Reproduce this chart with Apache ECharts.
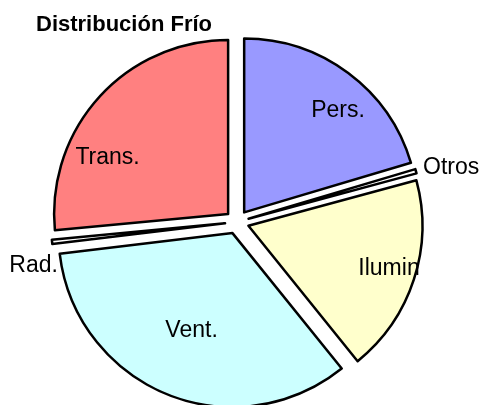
<!DOCTYPE html>
<html>
<head>
<meta charset="utf-8">
<script src="https://cdn.jsdelivr.net/npm/echarts@6/dist/echarts.min.js"></script>
<style>
  html, body { margin: 0; padding: 0; background: #fff; }
  #chart { width: 480px; height: 405px; }
</style>
</head>
<body>
<div id="chart"></div>
<script>
// datos de la distribución (%)
const names = ['Pers.', 'Otros', 'Ilumin', 'Vent.', 'Rad.', 'Trans.']
const values = [20.4, 0.4, 18.4, 33.9, 0.4, 26.5]
const colors = ['#9999ff', '#ffffff', '#ffffcc', '#ccffff', '#ffffff', '#ff8080']

// desplazamiento de cada etiqueta respecto a la posición "inside"
const labelOffsets = [[40, -30], [116, -27], [55, 15], [-7, 14], [-102, 33], [-54, 4]]

const chart = echarts.init(document.getElementById('chart'))

const option = {
  animation: false,
  title: {
    text: 'Distribución Frío',
    left: 31,
    top: 9,
    textStyle: { fontFamily: 'Liberation Sans', fontWeight: 'bold', fontSize: 22, color: '#000' },
  },
  series: [
    {
      type: 'pie',
      center: [237, 222],
      radius: 174,
      startAngle: 90,
      clockwise: true,
      selectedMode: 'multiple',
      selectedOffset: 12,
      avoidLabelOverlap: false,
      itemStyle: { borderColor: '#000', borderWidth: 2.5 },
      select: { itemStyle: { borderColor: '#000', borderWidth: 2.5 } },
      emphasis: { disabled: true },
      label: {
        show: true,
        position: 'inside',
        fontFamily: 'Liberation Sans',
        fontSize: 23,
        color: '#000',
        formatter: '{b}',
      },
      labelLine: { show: false },
      labelLayout: (p) => ({ dx: labelOffsets[p.dataIndex][0], dy: labelOffsets[p.dataIndex][1] }),
      data: names.map((n, i) => ({
        name: n,
        value: values[i],
        selected: true,
        itemStyle: { color: colors[i] },
      })),
    },
  ],
}

chart.setOption(option)
</script>
</body>
</html>
